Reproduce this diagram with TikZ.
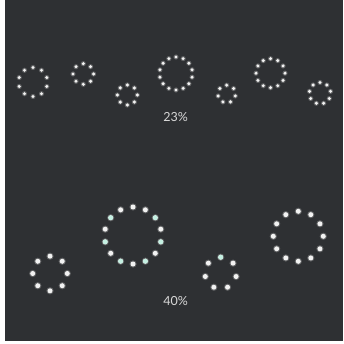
\documentclass[tikz,border=0pt]{standalone}
\usepackage{fontspec}
\setsansfont{Lato}
\usepackage{xcolor}
\definecolor{panel}{HTML}{2E3033}
\definecolor{dotwhite}{HTML}{F2F2F2}
\definecolor{dotteal}{HTML}{C4F0E2}
\definecolor{label}{HTML}{D8D8D8}
\usepackage{tikz}
\usetikzlibrary{calc}

\begin{document}
\begin{tikzpicture}[
  x=1pt,y=-1pt,
  font=\sffamily,
  glow/.style={fill=#1,opacity=0.25},
  core/.style={fill=#1},
  pct/.style={text=label,font=\sffamily\fontsize{12.5}{13}\selectfont,inner sep=0pt},
]

% --- page: thin white margin left and bottom, dark panel
\useasboundingbox (0,0) rectangle (343,344);
\fill[white] (0,0) rectangle (343,344);
\fill[panel] (5,0) rectangle (343,341);

% --- top row spinners: x / y / radius / dots
\foreach \cx/\cy/\rad/\cnt in {33/82/14.5/10, 83.3/74/10.3/8, 127.3/95/10/8,
    176/73.5/16.5/14, 226.7/94/8.8/7, 270.5/73.2/14.5/12, 320/93.2/10.7/9}{
  \foreach \k in {1,...,\cnt}{
    \path (\cx,\cy) ++(90-360*\k/\cnt:\rad pt) coordinate (p);
    \fill[glow=dotwhite] (p) circle[radius=2.6pt];
    \fill[core=dotwhite] (p) circle[radius=1.7pt];
  }
}

% --- bottom row spinners
\foreach \cx/\cy/\rad/\cnt in {50/273.5/17.3/8, 133/235.5/28.5/14,
    220.7/273/15.8/7, 298.3/236.3/25/12}{
  \foreach \k in {1,...,\cnt}{
    \path (\cx,\cy) ++(90-360*\k/\cnt:\rad pt) coordinate (p);
    \fill[glow=dotwhite] (p) circle[radius=3.6pt];
    \fill[core=dotwhite] (p) circle[radius=2.5pt];
  }
}

% teal tinted dots
\foreach \k in {2,4,...,12}{
  \fill[core=dotteal] (133,235.5) ++(90-360*\k/14:28.5pt) circle[radius=2.5pt];
}
\fill[core=dotteal] (220.7,273) ++(90:15.8pt) circle[radius=2.5pt];

% --- labels
\node[pct] (top) at (175.7,117.3) {23\%};
\node[pct] (bottom) at (175.7,301.3) {40\%};

\end{tikzpicture}
\end{document}
